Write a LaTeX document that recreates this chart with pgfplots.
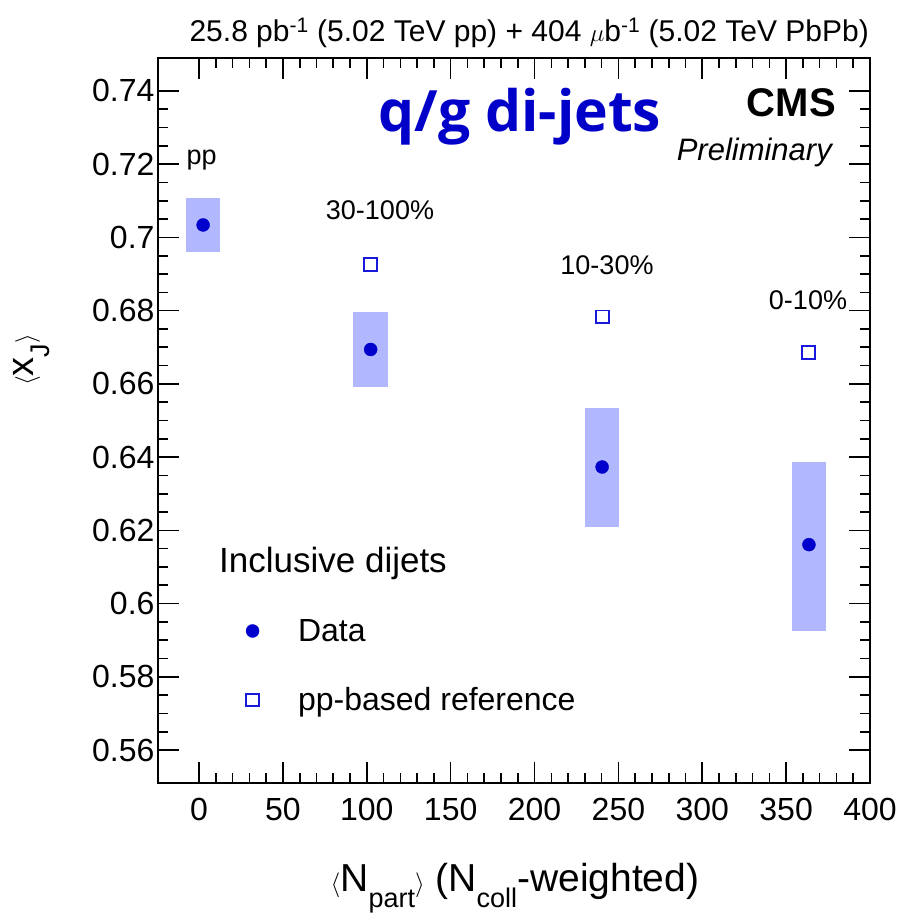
\documentclass[border=0pt]{standalone}
\usepackage{fontspec}
\setmainfont{Liberation Sans}
\newfontfamily\qgfont{Open Sans}
\usepackage{pgfplots}
\pgfplotsset{compat=1.18}

\definecolor{boxblue}{RGB}{178,184,255}
\definecolor{datablue}{RGB}{0,0,205}
\definecolor{refblue}{RGB}{25,25,220}
\definecolor{qgblue}{RGB}{0,0,200}

\newcommand{\sub}[1]{\raisebox{-0.42em}{\fontsize{27}{27}\selectfont #1}}

\begin{document}
\begin{tikzpicture}[x=1pt,y=1pt]
\useasboundingbox (0,0) rectangle (897,921);
\begin{axis}[
  at={(158pt,138pt)}, anchor=south west,
  width=712pt, height=725pt, scale only axis,
  xmin=-24.5, xmax=400, ymin=0.551, ymax=0.749,
  xtick={0,50,100,150,200,250,300,350,400},
  ytick={0.56,0.58,0.6,0.62,0.64,0.66,0.68,0.7,0.72,0.74},
  minor x tick num=4, minor y tick num=3,
  tick align=inside, xtick pos=both, ytick pos=both,
  xticklabel pos=lower, yticklabel pos=left,
  major tick length=21pt, minor tick length=10pt,
  axis line style={line width=1.6pt},
  every tick/.style={black, line width=1.6pt},
  ticklabel style={font=\fontsize{32}{35}\selectfont},
  xticklabel style={yshift=-12pt},
  /pgf/number format/.cd, fixed, precision=2, assume math mode=true,
  /pgfplots/.cd,
  legend style={at={(axis description cs:0.1192,0.2317)}, anchor=north west,
    draw=none, fill=none, font=\fontsize{32}{36}\selectfont, row sep=41pt,
    /tikz/every odd column/.append style={column sep=37pt}},
  legend cell align=left,
]
% systematic uncertainty boxes
\addplot[fill=boxblue, draw=none, forget plot] coordinates
  {(-7.9,0.6961) (12.7,0.6961) (12.7,0.7107) (-7.9,0.7107)} -- cycle;
\addplot[fill=boxblue, draw=none, forget plot] coordinates
  {(92.0,0.6591) (112.6,0.6591) (112.6,0.6797) (92.0,0.6797)} -- cycle;
\addplot[fill=boxblue, draw=none, forget plot] coordinates
  {(230.0,0.6209) (250.6,0.6209) (250.6,0.6535) (230.0,0.6535)} -- cycle;
\addplot[fill=boxblue, draw=none, forget plot] coordinates
  {(353.3,0.5926) (373.9,0.5926) (373.9,0.6388) (353.3,0.6388)} -- cycle;
% measured <x_J>
\addplot[only marks, mark=*, mark size=6.5pt, datablue] coordinates
  {(2.4,0.7034) (102.3,0.6694) (240.3,0.6373) (363.6,0.6161)};
\addlegendentry{Data}
% pp-based reference
\addplot[only marks, mark=square, mark size=6.3pt, refblue,
  mark options={line width=1.8pt}] coordinates
  {(102.3,0.6926) (240.6,0.6783) (363.4,0.6686)};
\addlegendentry{pp-based reference}
\end{axis}

% labels and annotations
\node[anchor=east, inner sep=0pt] at (869,888)
  {\fontsize{30}{33}\selectfont 25.8 pb\textsuperscript{-1} (5.02 TeV pp) + 404 $\mu$b\textsuperscript{-1} (5.02 TeV PbPb)};
\node[inner sep=0pt] at (201.7,761) {\fontsize{27}{30}\selectfont pp};
\node[inner sep=0pt] at (380,711) {\fontsize{27}{30}\selectfont 30-100\%};
\node[inner sep=0pt] at (607,656) {\fontsize{27}{30}\selectfont 10-30\%};
\node[inner sep=0pt] at (808,621) {\fontsize{27}{30}\selectfont 0-10\%};
\node[anchor=east, inner sep=0pt] at (836,818) {\fontsize{40}{44}\selectfont\bfseries CMS};
\node[anchor=east, inner sep=0pt] at (832,769) {\fontsize{31}{34}\selectfont\itshape Preliminary};
\node[inner sep=0pt, text=qgblue] at (520,804) {\qgfont\bfseries\fontsize{57}{60}\selectfont q/g di-jets};
\node[anchor=west, inner sep=0pt] at (219,358) {\fontsize{35}{38}\selectfont Inclusive dijets};
\node[inner sep=0pt] at (515,33)
  {\fontsize{39}{42}\selectfont $\langle$N\sub{part}$\rangle$ (N\sub{coll}-weighted)};
\node[inner sep=0pt, rotate=90] at (32,561)
  {\fontsize{38}{42}\selectfont $\langle$x\sub{J}$\rangle$};
\end{tikzpicture}
\end{document}
